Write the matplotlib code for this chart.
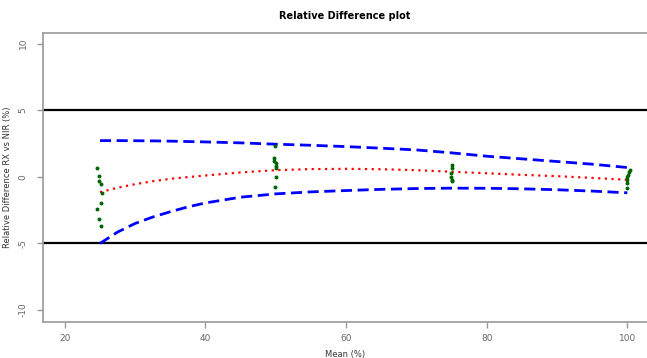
import matplotlib.pyplot as plt

# measured points at each level (x jittered around the nominal level)
x25 = [24.6, 24.9, 24.8, 25.2, 25.3, 25.1, 24.6, 24.9, 25.2]
y25 = [0.70, 0.08, -0.35, -0.53, -1.23, -1.97, -2.42, -3.17, -3.67]
x50 = [49.9, 49.8, 49.8, 50.0, 50.0, 50.1, 50.0, 49.9]
y50 = [2.28, 1.45, 1.20, 1.03, 0.85, 0.65, 0.02, -0.80]
x75 = [75.1, 75.0, 74.9, 74.9, 75.0, 75.1]
y75 = [0.90, 0.70, 0.28, 0.02, -0.22, -0.35]
x100 = [100.4, 100.2, 100.1, 100.0, 100.0, 99.9, 99.9]
y100 = [0.52, 0.35, 0.15, -0.05, -0.22, -0.47, -0.85]

# fitted curves
curve_x = [25, 27.5, 30, 32.5, 35, 37.5, 40, 45, 50, 55, 60, 65, 70, 75, 80, 85, 90, 95, 100]
mean_y = [-1.15, -0.82, -0.55, -0.33, -0.15, -0.02, 0.10, 0.33, 0.50, 0.58, 0.60, 0.57,
          0.50, 0.38, 0.27, 0.15, 0.05, -0.08, -0.22]
upper_y = [2.72, 2.72, 2.71, 2.70, 2.68, 2.65, 2.62, 2.55, 2.45, 2.37, 2.27, 2.15,
           2.02, 1.80, 1.55, 1.35, 1.15, 0.95, 0.70]
lower_y = [-5.0, -4.15, -3.50, -3.02, -2.62, -2.26, -1.96, -1.53, -1.28, -1.13, -1.03,
           -0.94, -0.88, -0.85, -0.86, -0.90, -0.97, -1.07, -1.20]

limits = [5, -5]

fig = plt.figure(figsize=(6.47, 3.58), dpi=100)
ax = fig.add_axes([0.0665, 0.1006, 0.9335, 0.8072])

for h in limits:
    ax.axhline(h, color='black', lw=1.6, zorder=1)

ax.plot(curve_x, upper_y, color='blue', lw=2, linestyle=(0, (4, 2)), zorder=2)
ax.plot(curve_x, lower_y, color='blue', lw=2, linestyle=(0, (4, 2)), zorder=2)
ax.plot(curve_x, mean_y, color='red', lw=1.6, linestyle=(0, (1, 2)), zorder=3)

for xs, ys in [(x25, y25), (x50, y50), (x75, y75), (x100, y100)]:
    ax.scatter(xs, ys, s=8, color='#006400', zorder=4, linewidths=0)

ax.set_xlim(16.9, 102.8)
ax.set_ylim(-10.9, 10.8)
ax.set_xticks([20, 40, 60, 80, 100])
ax.set_yticks([-10, -5, 0, 5, 10])
ax.set_yticklabels(['-10', '-5', '0', '5', '10'], rotation=90, va='center')

for s in ['left', 'bottom', 'top']:
    ax.spines[s].set_color('#999999')
    ax.spines[s].set_linewidth(1.2)
ax.spines['right'].set_visible(False)
ax.tick_params(colors='#999999', labelcolor='#666666', labelsize=6.5, length=4, width=1,
               direction='out', pad=5)
ax.tick_params(axis='y', pad=7)

ax.set_title('Relative Difference plot', fontsize=7, fontweight='bold', pad=10)
ax.set_xlabel('Mean (%)', fontsize=6, color='#333333', labelpad=5)
ax.set_ylabel('Relative Difference RX vs NIR (%)', fontsize=6, color='#333333', labelpad=5)

fig.savefig('out.png', dpi=100)
